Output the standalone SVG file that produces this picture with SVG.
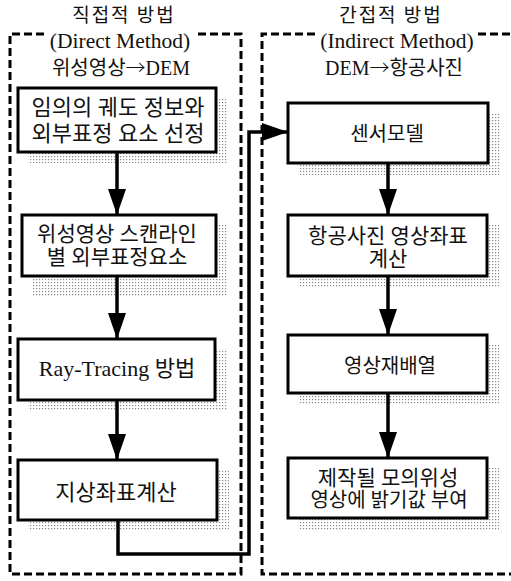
<svg xmlns="http://www.w3.org/2000/svg" width="511" height="581" viewBox="0 0 511 581">
<style>
.title{font-family:"Liberation Serif","Noto Sans CJK KR",serif;font-size:20px;fill:#111;text-anchor:middle}
.arr{font-family:"Noto Sans CJK KR",sans-serif;font-weight:300}
.kt{font-family:"Noto Sans CJK KR",sans-serif;font-size:19px;fill:#111;text-anchor:middle;letter-spacing:2px}
.lbl{font-family:"Liberation Serif","Noto Sans CJK KR",serif;font-size:21px;fill:#111;text-anchor:middle}
.box{fill:#fff;stroke:#000;stroke-width:3}
.shadow{fill:url(#dots)}
.dash{fill:none;stroke:#000;stroke-width:3;stroke-dasharray:8 4}
.conn{fill:none;stroke:#000;stroke-width:3.5}
</style>
<defs>
<pattern id="dots" width="3" height="3" patternUnits="userSpaceOnUse">
<rect x="0" y="0" width="1.2" height="1.2" fill="#888"/>
</pattern>
<marker id="ah" markerUnits="userSpaceOnUse" markerWidth="26" markerHeight="18" refX="25" refY="9" orient="auto" viewBox="0 0 26 18">
<path d="M0,0 L26,9 L0,18 Z" fill="#000"/>
</marker>
</defs>
<rect width="511" height="581" fill="#fff"/>

<g id="direct-frame">
<path class="dash" d="M44,34 H10 V574 H241 V34 H198"/>
<text class="kt" x="124" y="22">직접적 방법</text>
<text class="title" x="120" y="48" style="font-size:21.5px">(Direct Method)</text>
<text class="title" x="121" y="75">위성영상<tspan class="arr">→</tspan>DEM</text>
</g>

<g id="indirect-frame">
<path class="dash" d="M315,34 H262 V574 H514"/>
<path class="dash" d="M478,34 H514"/>
<text class="kt" x="391" y="22">간접적 방법</text>
<text class="title" x="397" y="48" style="font-size:21.5px">(Indirect Method)</text>
<text class="title" x="394" y="75">DEM<tspan class="arr">→</tspan>항공사진</text>
</g>

<g id="n1">
<rect class="shadow" x="28" y="98" width="200" height="65"/>
<rect class="box" x="18" y="88" width="198" height="64"/>
<text class="lbl" x="118" y="115" style="font-size:22px">임의의 궤도 정보와</text>
<text class="lbl" x="118" y="141" style="font-size:22px">외부표정 요소 선정</text>
</g>

<g id="n2">
<rect class="shadow" x="32" y="225" width="196" height="72"/>
<rect class="box" x="22" y="215" width="194" height="61"/>
<text class="lbl" x="117" y="241">위성영상 스캔라인</text>
<text class="lbl" x="117" y="264">별 외부표정요소</text>
</g>

<g id="n3">
<rect class="shadow" x="28" y="349" width="200" height="62"/>
<rect class="box" x="18" y="339" width="197" height="61"/>
<text class="lbl" x="117" y="376" style="font-size:22px">Ray-Tracing 방법</text>
</g>

<g id="n4">
<rect class="shadow" x="28" y="470" width="201" height="61"/>
<rect class="box" x="18" y="460" width="199" height="60"/>
<text class="lbl" x="116" y="500" style="font-size:22px">지상좌표계산</text>
</g>

<g id="m1">
<rect class="shadow" x="298" y="113" width="202" height="62"/>
<rect class="box" x="288" y="103" width="200" height="60"/>
<text class="lbl" x="387" y="141" style="font-size:20px">센서모델</text>
</g>

<g id="m2">
<rect class="shadow" x="298" y="225" width="201" height="62"/>
<rect class="box" x="288" y="215" width="199" height="61"/>
<text class="lbl" x="388" y="243">항공사진 영상좌표</text>
<text class="lbl" x="388" y="266">계산</text>
</g>

<g id="m3">
<rect class="shadow" x="298" y="345" width="201" height="60"/>
<rect class="box" x="288" y="335" width="199" height="58"/>
<text class="lbl" x="390" y="373" style="font-size:20px">영상재배열</text>
</g>

<g id="m4">
<rect class="shadow" x="298" y="468" width="201" height="62"/>
<rect class="box" x="288" y="458" width="199" height="60"/>
<text class="lbl" x="388" y="485">제작될 모의위성</text>
<text class="lbl" x="389" y="507" style="font-size:20px">영상에 밝기값 부여</text>
</g>

<g id="connectors">
<line class="conn" x1="117" y1="153" x2="117" y2="214" marker-end="url(#ah)"/>
<line class="conn" x1="117" y1="277" x2="117" y2="338" marker-end="url(#ah)"/>
<line class="conn" x1="117" y1="401" x2="117" y2="459" marker-end="url(#ah)"/>
<path class="conn" d="M118,521 V554 H249 V132 H287" marker-end="url(#ah)"/>
<line class="conn" x1="388" y1="164" x2="388" y2="214" marker-end="url(#ah)"/>
<line class="conn" x1="388" y1="277" x2="388" y2="334" marker-end="url(#ah)"/>
<line class="conn" x1="388" y1="394" x2="388" y2="457" marker-end="url(#ah)"/>
</g>
</svg>
